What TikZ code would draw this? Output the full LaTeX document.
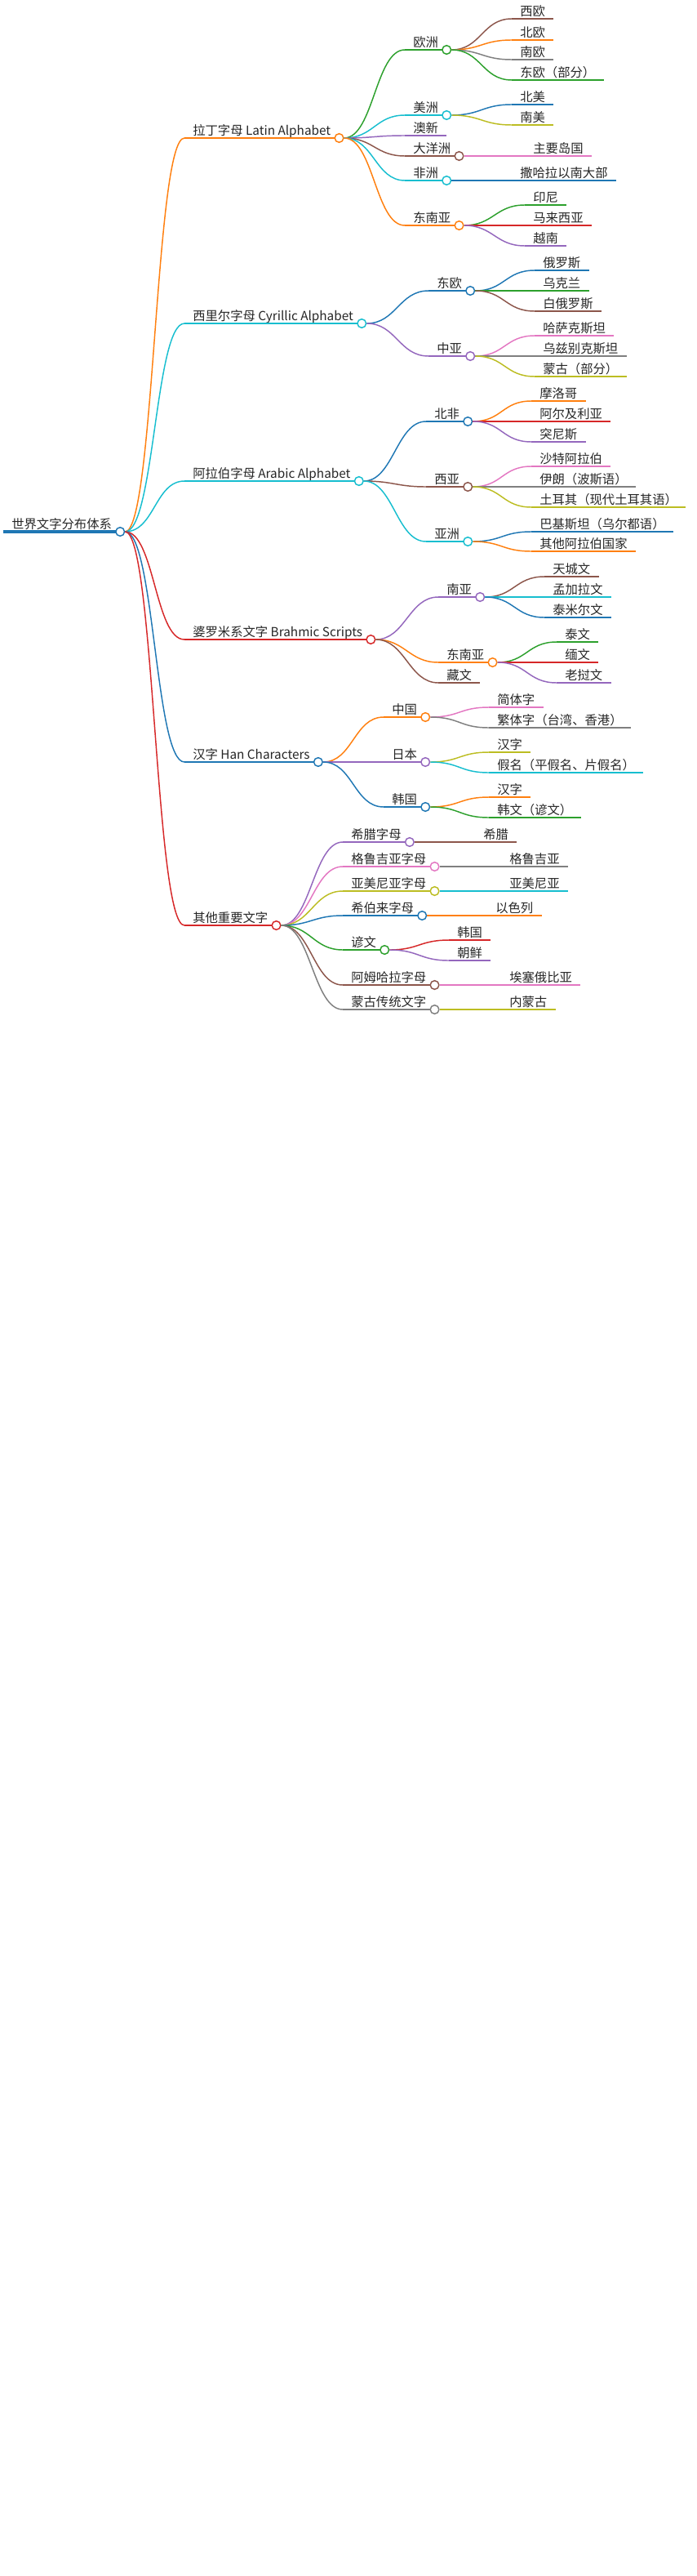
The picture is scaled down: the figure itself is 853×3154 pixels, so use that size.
\documentclass[tikz,border=0pt]{standalone}
\usepackage{fontspec}
\setmainfont{Noto Sans CJK SC}
\usepackage{tikz}
\definecolor{mblue}{HTML}{1F77B4}
\definecolor{morange}{HTML}{FF7F0E}
\definecolor{mgreen}{HTML}{2CA02C}
\definecolor{mred}{HTML}{D62728}
\definecolor{mpurple}{HTML}{9467BD}
\definecolor{mbrown}{HTML}{8C564B}
\definecolor{mpink}{HTML}{E377C2}
\definecolor{mgray}{HTML}{7F7F7F}
\definecolor{molive}{HTML}{BCBD22}
\definecolor{mcyan}{HTML}{17BECF}

\begin{document}
\begin{tikzpicture}[
    x=0.75pt, y=-0.75pt,
    topic/.style={anchor=south west, inner xsep=7.5pt, inner ysep=0pt, text depth=2.5pt, text=black!85, font=\fontsize{11.5pt}{14pt}\selectfont,
        append after command={(\tikzlastnode.south west) edge[#1, line width=1.1pt] (\tikzlastnode.south east)}},
    bulb/.style={circle, draw=#1, fill=white, line width=1.1pt, minimum size=8pt, inner sep=0pt},
    linkto/.style={#1, line width=1.1pt, to path={.. controls +(36,0) and +(-36,0) .. (\tikztotarget)}}
]
\useasboundingbox (0,0) rectangle (853,3154);

% root
\node[topic=mblue] (root) at (4,651) {世界文字分布体系};
\draw[mblue, line width=2.6pt] (root.south west) -- (root.south east);
\node[bulb=mblue] (rootd) at (root.south east) {};

% latin
\node[topic=morange] (latin) at (226,169) {拉丁字母 Latin Alphabet};
\node[bulb=morange] (latind) at (latin.south east) {};
\node[topic=mgreen] (europe) at (496,61) {欧洲};
\node[bulb=mgreen] (europed) at (europe.south east) {};
\node[topic=mcyan] (america) at (496,141) {美洲};
\node[bulb=mcyan] (americad) at (america.south east) {};
\node[topic=mpurple] (anz) at (496,166) {澳新};
\node[topic=mbrown] (oceania) at (496,191) {大洋洲};
\node[bulb=mbrown] (oceaniad) at (oceania.south east) {};
\node[topic=mcyan] (africa) at (496,221) {非洲};
\node[bulb=mcyan] (africad) at (africa.south east) {};
\node[topic=morange] (seasia) at (496,276) {东南亚};
\node[bulb=morange] (seasiad) at (seasia.south east) {};
\node[topic=mbrown] (weu) at (627,23) {西欧};
\node[topic=morange] (neu) at (627,49) {北欧};
\node[topic=mgray] (seu) at (627,73) {南欧};
\node[topic=mgreen] (eeu) at (627,98) {东欧（部分）};
\node[topic=mblue] (nam) at (627,128) {北美};
\node[topic=molive] (sam) at (627,153) {南美};
\node[topic=mpink] (isles) at (643,191) {主要岛国};
\node[topic=mblue] (subsah) at (627,221) {撒哈拉以南大部};
\node[topic=mgreen] (indo) at (643,251) {印尼};
\node[topic=mred] (malay) at (643,276) {马来西亚};
\node[topic=mpurple] (viet) at (643,301) {越南};

% cyrillic
\node[topic=mcyan] (cyril) at (226,396) {西里尔字母 Cyrillic Alphabet};
\node[bulb=mcyan] (cyrild) at (cyril.south east) {};
\node[topic=mblue] (easteu) at (525,356) {东欧};
\node[bulb=mblue] (easteud) at (easteu.south east) {};
\node[topic=mpurple] (casia) at (525,436) {中亚};
\node[bulb=mpurple] (casiad) at (casia.south east) {};
\node[topic=mblue] (russia) at (655,331) {俄罗斯};
\node[topic=mgreen] (ukraine) at (655,356) {乌克兰};
\node[topic=mbrown] (belarus) at (655,381) {白俄罗斯};
\node[topic=mpink] (kazakh) at (655,411) {哈萨克斯坦};
\node[topic=mgray] (uzbek) at (655,436) {乌兹别克斯坦};
\node[topic=molive] (mongol) at (655,461) {蒙古（部分）};

% arabic
\node[topic=mcyan] (arab) at (226,589) {阿拉伯字母 Arabic Alphabet};
\node[bulb=mcyan] (arabd) at (arab.south east) {};
\node[topic=mblue] (nafrica) at (522,516) {北非};
\node[bulb=mblue] (nafricad) at (nafrica.south east) {};
\node[topic=mbrown] (wasia) at (522,596) {西亚};
\node[bulb=mbrown] (wasiad) at (wasia.south east) {};
\node[topic=mcyan] (asia) at (522,663) {亚洲};
\node[bulb=mcyan] (asiad) at (asia.south east) {};
\node[topic=morange] (morocco) at (651,491) {摩洛哥};
\node[topic=mred] (algeria) at (651,516) {阿尔及利亚};
\node[topic=mpurple] (tunisia) at (651,541) {突尼斯};
\node[topic=mpink] (saudi) at (651,571) {沙特阿拉伯};
\node[topic=mgray] (iran) at (651,596) {伊朗（波斯语）};
\node[topic=molive] (turkey) at (651,621) {土耳其（现代土耳其语）};
\node[topic=mblue] (pakistan) at (651,651) {巴基斯坦（乌尔都语）};
\node[topic=morange] (otherarab) at (651,675) {其他阿拉伯国家};

% brahmic
\node[topic=mred] (brahmi) at (226,783) {婆罗米系文字 Brahmic Scripts};
\node[bulb=mred] (brahmid) at (brahmi.south east) {};
\node[topic=mpurple] (sasia) at (537,731) {南亚};
\node[bulb=mpurple] (sasiad) at (sasia.south east) {};
\node[topic=morange] (seasiab) at (537,811) {东南亚};
\node[bulb=morange] (seasiabd) at (seasiab.south east) {};
\node[topic=mbrown] (tibet) at (537,836) {藏文};
\node[topic=mbrown] (deva) at (667,706) {天城文};
\node[topic=mcyan] (bengali) at (667,731) {孟加拉文};
\node[topic=mblue] (tamil) at (667,756) {泰米尔文};
\node[topic=mgreen] (thai) at (682,786) {泰文};
\node[topic=mred] (burmese) at (682,811) {缅文};
\node[topic=mpurple] (lao) at (682,836) {老挝文};

% han
\node[topic=mblue] (han) at (226,933) {汉字 Han Characters};
\node[bulb=mblue] (hand) at (han.south east) {};
\node[topic=morange] (china) at (470,878) {中国};
\node[bulb=morange] (chinad) at (china.south east) {};
\node[topic=mpurple] (japan) at (470,933) {日本};
\node[bulb=mpurple] (japand) at (japan.south east) {};
\node[topic=mblue] (korea) at (470,988) {韩国};
\node[bulb=mblue] (kornead) at (korea.south east) {};
\node[topic=mpink] (simp) at (599,866) {简体字};
\node[topic=mgray] (trad) at (599,891) {繁体字（台湾、香港）};
\node[topic=molive] (kanji) at (599,921) {汉字};
\node[topic=mcyan] (kana) at (599,946) {假名（平假名、片假名）};
\node[topic=morange] (hanja) at (599,976) {汉字};
\node[topic=mgreen] (hangul) at (599,1001) {韩文（谚文）};

% other
\node[topic=mred] (other) at (226,1133) {其他重要文字};
\node[bulb=mred] (otherd) at (other.south east) {};
\node[topic=mpurple] (greek) at (420,1031) {希腊字母};
\node[bulb=mpurple] (greekd) at (greek.south east) {};
\node[topic=mpink] (georg) at (420,1061) {格鲁吉亚字母};
\node[bulb=mpink] (georgd) at (georg.south east) {};
\node[topic=molive] (armen) at (420,1091) {亚美尼亚字母};
\node[bulb=molive] (armend) at (armen.south east) {};
\node[topic=mblue] (hebrew) at (420,1121) {希伯来字母};
\node[bulb=mblue] (hebrewd) at (hebrew.south east) {};
\node[topic=mgreen] (hangeul) at (420,1163) {谚文};
\node[bulb=mgreen] (hangeuld) at (hangeul.south east) {};
\node[topic=mbrown] (amhar) at (420,1206) {阿姆哈拉字母};
\node[bulb=mbrown] (amhard) at (amhar.south east) {};
\node[topic=mgray] (mongtr) at (420,1236) {蒙古传统文字};
\node[bulb=mgray] (mongtrd) at (mongtr.south east) {};
\node[topic=mbrown] (greece) at (582,1031) {希腊};
\node[topic=mgray] (georgia) at (614,1061) {格鲁吉亚};
\node[topic=mcyan] (armenia) at (614,1091) {亚美尼亚};
\node[topic=morange] (israel) at (597,1121) {以色列};
\node[topic=mred] (skorea) at (550,1151) {韩国};
\node[topic=mpurple] (nkorea) at (550,1176) {朝鲜};
\node[topic=mpink] (ethiopia) at (614,1206) {埃塞俄比亚};
\node[topic=molive] (inmong) at (614,1236) {内蒙古};

% links
\draw[linkto=morange] (rootd.east) to (latin.south west);
\draw[linkto=mcyan] (rootd.east) to (cyril.south west);
\draw[linkto=mcyan] (rootd.east) to (arab.south west);
\draw[linkto=mred] (rootd.east) to (brahmi.south west);
\draw[linkto=mblue] (rootd.east) to (han.south west);
\draw[linkto=mred] (rootd.east) to (other.south west);

\draw[linkto=mgreen] (latind.east) to (europe.south west);
\draw[linkto=mcyan] (latind.east) to (america.south west);
\draw[linkto=mpurple] (latind.east) to (anz.south west);
\draw[linkto=mbrown] (latind.east) to (oceania.south west);
\draw[linkto=mcyan] (latind.east) to (africa.south west);
\draw[linkto=morange] (latind.east) to (seasia.south west);
\draw[linkto=mbrown] (europed.east) to (weu.south west);
\draw[linkto=morange] (europed.east) to (neu.south west);
\draw[linkto=mgray] (europed.east) to (seu.south west);
\draw[linkto=mgreen] (europed.east) to (eeu.south west);
\draw[linkto=mblue] (americad.east) to (nam.south west);
\draw[linkto=molive] (americad.east) to (sam.south west);
\draw[linkto=mpink] (oceaniad.east) to (isles.south west);
\draw[linkto=mblue] (africad.east) to (subsah.south west);
\draw[linkto=mgreen] (seasiad.east) to (indo.south west);
\draw[linkto=mred] (seasiad.east) to (malay.south west);
\draw[linkto=mpurple] (seasiad.east) to (viet.south west);

\draw[linkto=mblue] (cyrild.east) to (easteu.south west);
\draw[linkto=mpurple] (cyrild.east) to (casia.south west);
\draw[linkto=mblue] (easteud.east) to (russia.south west);
\draw[linkto=mgreen] (easteud.east) to (ukraine.south west);
\draw[linkto=mbrown] (easteud.east) to (belarus.south west);
\draw[linkto=mpink] (casiad.east) to (kazakh.south west);
\draw[linkto=mgray] (casiad.east) to (uzbek.south west);
\draw[linkto=molive] (casiad.east) to (mongol.south west);

\draw[linkto=mblue] (arabd.east) to (nafrica.south west);
\draw[linkto=mbrown] (arabd.east) to (wasia.south west);
\draw[linkto=mcyan] (arabd.east) to (asia.south west);
\draw[linkto=morange] (nafricad.east) to (morocco.south west);
\draw[linkto=mred] (nafricad.east) to (algeria.south west);
\draw[linkto=mpurple] (nafricad.east) to (tunisia.south west);
\draw[linkto=mpink] (wasiad.east) to (saudi.south west);
\draw[linkto=mgray] (wasiad.east) to (iran.south west);
\draw[linkto=molive] (wasiad.east) to (turkey.south west);
\draw[linkto=mblue] (asiad.east) to (pakistan.south west);
\draw[linkto=morange] (asiad.east) to (otherarab.south west);

\draw[linkto=mpurple] (brahmid.east) to (sasia.south west);
\draw[linkto=morange] (brahmid.east) to (seasiab.south west);
\draw[linkto=mbrown] (brahmid.east) to (tibet.south west);
\draw[linkto=mbrown] (sasiad.east) to (deva.south west);
\draw[linkto=mcyan] (sasiad.east) to (bengali.south west);
\draw[linkto=mblue] (sasiad.east) to (tamil.south west);
\draw[linkto=mgreen] (seasiabd.east) to (thai.south west);
\draw[linkto=mred] (seasiabd.east) to (burmese.south west);
\draw[linkto=mpurple] (seasiabd.east) to (lao.south west);

\draw[linkto=morange] (hand.east) to (china.south west);
\draw[linkto=mpurple] (hand.east) to (japan.south west);
\draw[linkto=mblue] (hand.east) to (korea.south west);
\draw[linkto=mpink] (chinad.east) to (simp.south west);
\draw[linkto=mgray] (chinad.east) to (trad.south west);
\draw[linkto=molive] (japand.east) to (kanji.south west);
\draw[linkto=mcyan] (japand.east) to (kana.south west);
\draw[linkto=morange] (kornead.east) to (hanja.south west);
\draw[linkto=mgreen] (kornead.east) to (hangul.south west);

\draw[linkto=mpurple] (otherd.east) to (greek.south west);
\draw[linkto=mpink] (otherd.east) to (georg.south west);
\draw[linkto=molive] (otherd.east) to (armen.south west);
\draw[linkto=mblue] (otherd.east) to (hebrew.south west);
\draw[linkto=mgreen] (otherd.east) to (hangeul.south west);
\draw[linkto=mbrown] (otherd.east) to (amhar.south west);
\draw[linkto=mgray] (otherd.east) to (mongtr.south west);
\draw[linkto=mbrown] (greekd.east) to (greece.south west);
\draw[linkto=mgray] (georgd.east) to (georgia.south west);
\draw[linkto=mcyan] (armend.east) to (armenia.south west);
\draw[linkto=morange] (hebrewd.east) to (israel.south west);
\draw[linkto=mred] (hangeuld.east) to (skorea.south west);
\draw[linkto=mpurple] (hangeuld.east) to (nkorea.south west);
\draw[linkto=mpink] (amhard.east) to (ethiopia.south west);
\draw[linkto=molive] (mongtrd.east) to (inmong.south west);
\end{tikzpicture}
\end{document}
